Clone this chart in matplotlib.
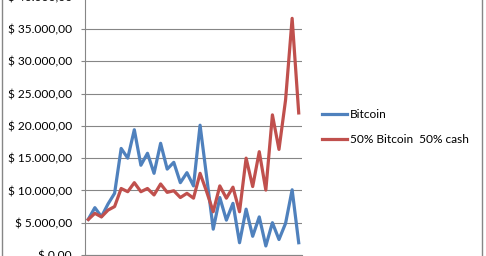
import matplotlib.pyplot as plt
from matplotlib.patches import Rectangle

# values (thousands of dollars)
bitcoin = [5.53, 7.33, 5.93, 7.9, 9.55, 16.5, 15.0, 19.4, 13.9, 15.75, 12.65,
           17.3, 13.3, 14.35, 11.2, 12.75, 10.7, 20.1, 12.1, 4.0, 8.9, 5.4,
           8.0, 1.9, 7.1, 2.9, 5.9, 1.4, 5.0, 2.4, 4.9, 10.1, 1.9]
half_cash = [5.5, 6.45, 5.9, 6.95, 7.5, 10.3, 9.8, 11.2, 9.8, 10.3, 9.3,
             11.0, 9.7, 9.95, 8.9, 9.55, 8.8, 12.65, 9.8, 6.7, 10.7, 8.8,
             10.5, 6.7, 15.0, 10.6, 16.0, 10.05, 21.7, 16.35, 24.0, 36.65, 22.0]
labels = ["Bitcoin", "50% Bitcoin  50% cash"]
y_ticks = list(range(0, 40001, 5000))

bitcoin = [v * 1000 for v in bitcoin]
half_cash = [v * 1000 for v in half_cash]
x = list(range(len(bitcoin)))

plt.rcParams['font.family'] = ['Lato', 'DejaVu Sans']
grid_col = '#868686'

fig = plt.figure(figsize=(4.86, 2.56), dpi=100)
fig.patches.append(Rectangle((2 / 486, -0.1), 479.5 / 486, 1.2, transform=fig.transFigure,
                             fill=False, edgecolor=grid_col, linewidth=1.0))

ax = fig.add_axes([85 / 486, 1 / 256, 217 / 486, 258.3 / 256])
ax.plot(x, bitcoin, color='#4F81BD', linewidth=2.3, label=labels[0], solid_joinstyle='round')
ax.plot(x, half_cash, color='#C0504D', linewidth=2.3, label=labels[1], solid_joinstyle='round')

ax.set_xlim(-0.5, len(x) - 0.5)
ax.set_ylim(0, 40000)
ax.set_yticks(y_ticks)
ax.set_yticklabels(["$ " + f"{v:,.2f}".replace(",", "X").replace(".", ",").replace("X", ".")
                    for v in y_ticks], fontsize=8.6, color='black')
ax.tick_params(axis='y', length=3, width=0.8, color=grid_col, pad=6.5)
ax.set_xticks([])
ax.grid(axis='y', color=grid_col, linewidth=0.8)
ax.set_axisbelow(True)
for side in ['top', 'right']:
    ax.spines[side].set_visible(False)
ax.spines['left'].set_color(grid_col)
ax.spines['bottom'].set_color(grid_col)
ax.spines['left'].set_linewidth(0.8)
ax.spines['bottom'].set_linewidth(0.8)
for t in ax.get_yticklabels():
    t.set_clip_on(False)

fig.legend(loc='upper left', bbox_to_anchor=(322 / 486, 1 - 109 / 256), frameon=False,
           fontsize=8.6, handlelength=2.1, handletextpad=0.25, labelspacing=1.15,
           borderpad=0, borderaxespad=0)

fig.savefig("out.png", dpi=100)
